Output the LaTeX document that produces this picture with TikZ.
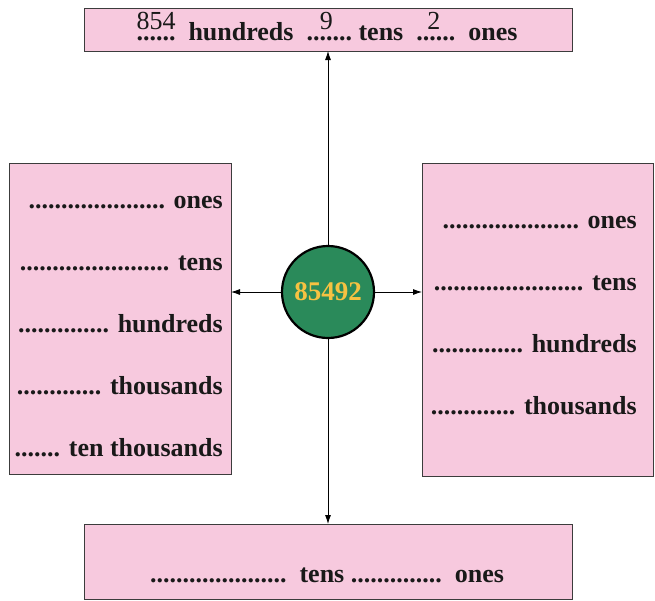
\documentclass[tikz,border=0pt]{standalone}
\usepackage{fontspec}
\setmainfont{Liberation Serif}
\usetikzlibrary{arrows.meta}
\definecolor{boxpink}{RGB}{247,201,222}
\definecolor{boxedge}{RGB}{60,60,60}
\definecolor{circgreen}{RGB}{42,138,90}
\definecolor{numgold}{RGB}{246,194,66}
\newcommand{\ansfill}[2]{\leavevmode\setbox0\hbox{#2}\rlap{\hbox to \wd0{\hfil\raisebox{11pt}{\mdseries #1}\hfil}}\box0}
\tikzset{
  pinkbox/.style={draw=boxedge, fill=boxpink, line width=1pt},
  lbl/.style={font=\fontsize{26}{26}\selectfont\bfseries, inner sep=0pt, text=black!90},
  conn/.style={line width=0.8pt, -{Latex[length=9pt,width=6pt]}},
}
\begin{document}
\begin{tikzpicture}[x=1pt,y=-1pt]
\useasboundingbox (0,0) rectangle (655,600);
% boxes
\draw[pinkbox] (84,8) rectangle (572,51);
\draw[pinkbox] (9,163) rectangle (231,474);
\draw[pinkbox] (422,163) rectangle (653,476);
\draw[pinkbox] (84,524) rectangle (572,599);
\coordinate (topb) at (328,51);
\coordinate (botb) at (328,524);
\coordinate (leftb) at (231,292);
\coordinate (rightb) at (422,292);
% centre circle
\node[circle, draw=black, line width=2.2pt, fill=circgreen, minimum size=92pt, inner sep=0pt,
      font=\fontsize{27}{27}\selectfont\bfseries, text=numgold] (c) at (328,292) {85492};
\draw[conn] (c.north) -- (topb);
\draw[conn] (c.south) -- (botb);
\draw[conn] (c.west) -- (leftb);
\draw[conn] (c.east) -- (rightb);
% top text
\node[lbl, anchor=base] (t) at (327,40) {\ansfill{854}{......}\ \ hundreds\ \ \ansfill{9\hspace{6pt}}{.......}\ tens\ \ \ansfill{2\hspace{4pt}}{......}\ \ ones};
% left box
\node[lbl, anchor=base east] (l1) at (223,208) {..................... ones};
\node[lbl, anchor=base east] (l2) at (223,270) {....................... tens};
\node[lbl, anchor=base east] (l3) at (223,332) {.............. hundreds};
\node[lbl, anchor=base east] (l4) at (223,394) {............. thousands};
\node[lbl, anchor=base east] (l5) at (223,456) {....... ten thousands};
% right box
\node[lbl, anchor=base east] (r1) at (637,228) {..................... ones};
\node[lbl, anchor=base east] (r2) at (637,290) {....................... tens};
\node[lbl, anchor=base east] (r3) at (637,352) {.............. hundreds};
\node[lbl, anchor=base east] (r4) at (637,414) {............. thousands};
% bottom text
\node[lbl, anchor=base] (b) at (327,582) {.....................\ \ tens ..............\ \ ones};
\end{tikzpicture}
\end{document}
